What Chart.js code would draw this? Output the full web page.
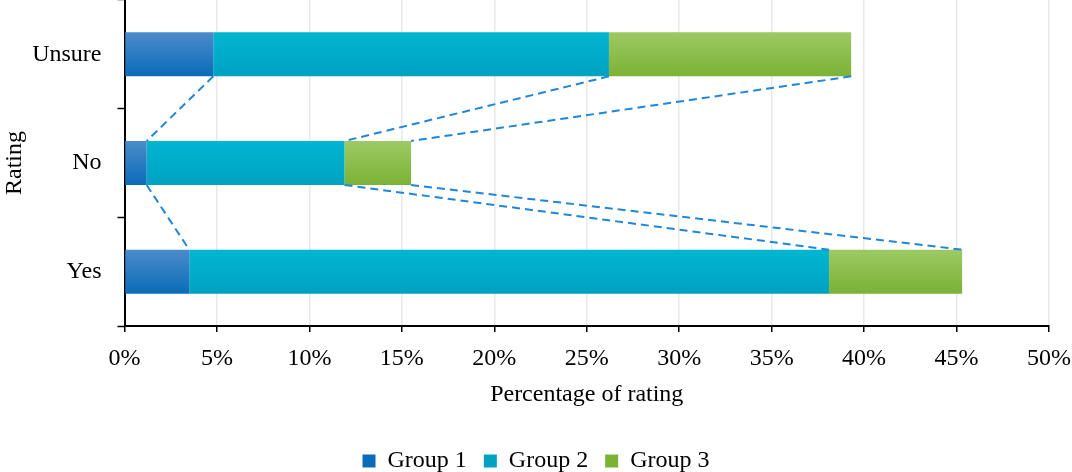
<!DOCTYPE html>
<html>
<head>
<meta charset="utf-8">
<script src="https://cdn.jsdelivr.net/npm/chart.js@4"></script>
<style>
  html, body { margin: 0; padding: 0; background: #fff; }
  #wrap { width: 1072px; height: 472px; }
</style>
</head>
<body>
<div id="wrap"><canvas id="bar-chart"></canvas></div>
<script>
const categories = ['Unsure', 'No', 'Yes'];
const group1 = [4.8, 1.2, 3.5];
const group2 = [21.4, 10.7, 34.6];
const group3 = [13.1, 3.6, 7.2];
const seriesNames = ['Group 1', 'Group 2', 'Group 3'];
const xTicks = [0, 5, 10, 15, 20, 25, 30, 35, 40, 45, 50];

const FONT = 'Liberation Serif, Times New Roman, serif';

// top / bottom colours of each bar gradient
const shades = [
    ['#4b8bca', '#0a6cb9'],
    ['#00b6d2', '#00a1c1'],
    ['#9dc963', '#7bb236'],
];

// paint each bar with a vertical gradient once its geometry is known
const barGradients = {
    id: 'barGradients',
    beforeDatasetsDraw(chart) {
        const ctx = chart.ctx;
        chart.data.datasets.forEach((ds, d) => {
            chart.getDatasetMeta(d).data.forEach(el => {
                const g = ctx.createLinearGradient(0, el.y - el.height / 2, 0, el.y + el.height / 2);
                g.addColorStop(0, shades[d][0]);
                g.addColorStop(1, shades[d][1]);
                el.options.backgroundColor = g;
            });
        });
    }
};

// dashed series lines joining the end of each segment between neighbouring bars
const seriesLines = {
    id: 'seriesLines',
    afterDatasetsDraw(chart) {
        const ctx = chart.ctx;
        ctx.save();
        ctx.strokeStyle = '#1f87da';
        ctx.lineWidth = 2;
        ctx.setLineDash([8, 5]);
        chart.data.datasets.forEach((ds, d) => {
            const bars = chart.getDatasetMeta(d).data;
            for (let i = 0; i < bars.length - 1; i++) {
                const a = bars[i], b = bars[i + 1];
                ctx.beginPath();
                ctx.moveTo(a.x, a.y + a.height / 2);
                ctx.lineTo(b.x, b.y - b.height / 2);
                ctx.stroke();
            }
        });
        ctx.restore();
    }
};

const values = [group1, group2, group3];

new Chart(document.getElementById('bar-chart'), {
    type: 'bar',
    data: {
        labels: categories,
        datasets: values.map((v, i) => ({
            label: seriesNames[i],
            data: v,
            // scriptable so every bar gets its own options object
            backgroundColor: () => shades[i][1],
            borderWidth: 0,
            barPercentage: 0.405,
            categoryPercentage: 1,
        })),
    },
    options: {
        indexAxis: 'y',
        responsive: true,
        maintainAspectRatio: false,
        animation: false,
        layout: { padding: { top: 0, left: 0, right: 0, bottom: -11 } },
        plugins: {
            tooltip: { enabled: false },
            legend: {
                position: 'bottom',
                labels: {
                    font: { family: FONT, size: 24 },
                    color: '#000',
                    boxWidth: 13,
                    boxHeight: 13,
                    padding: 17,
                    generateLabels(chart) {
                        return chart.data.datasets.map((ds, i) => ({
                            text: ds.label,
                            fillStyle: shades[i][1],
                            strokeStyle: shades[i][1],
                            lineWidth: 0,
                            datasetIndex: i,
                        }));
                    },
                },
            },
        },
        scales: {
            x: {
                stacked: true,
                min: 0,
                max: 50,
                afterBuildTicks(scale) {
                    scale.ticks = xTicks.map(v => ({ value: v }));
                },
                afterFit(scale) {
                    scale.height = 106;
                    scale.paddingRight = 23;
                    scale.paddingLeft = 0;
                },
                ticks: {
                    font: { family: FONT, size: 24 },
                    color: '#000',
                    padding: 12,
                    maxRotation: 0,
                    callback: v => v + '%',
                },
                grid: {
                    color: '#e8e8e8',
                    lineWidth: 1.5,
                    tickColor: '#000',
                    tickLength: 6,
                    tickWidth: 1.5,
                },
                border: { color: '#000', width: 2 },
                title: {
                    display: true,
                    text: 'Percentage of rating',
                    font: { family: FONT, size: 24 },
                    color: '#000',
                    padding: { top: 6, bottom: 23 },
                },
            },
            y: {
                stacked: true,
                afterFit(scale) {
                    scale.width = 124.5;
                    scale.paddingTop = 0;
                    scale.paddingBottom = 0;
                },
                ticks: {
                    font: { family: FONT, size: 24 },
                    color: '#000',
                    padding: 16,
                },
                grid: {
                    drawOnChartArea: false,
                    tickColor: '#000',
                    tickLength: 7,
                    tickWidth: 1.5,
                },
                border: { color: '#000', width: 2 },
                title: {
                    display: true,
                    text: 'Rating',
                    font: { family: FONT, size: 24 },
                    color: '#000',
                    padding: 0,
                },
            },
        },
    },
    plugins: [barGradients, seriesLines],
});
</script>
</body>
</html>
